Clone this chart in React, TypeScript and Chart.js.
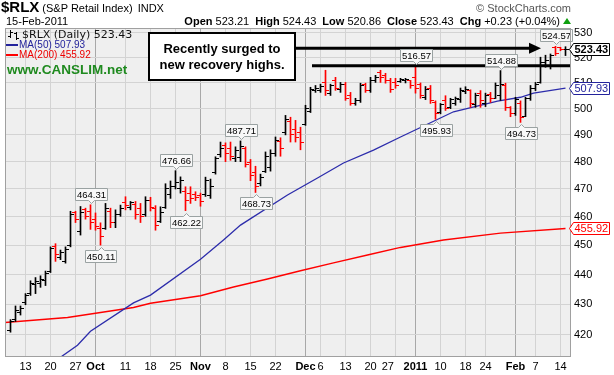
import React, { useEffect, useRef } from 'react';
import { Chart, registerables } from 'chart.js';

Chart.register(...registerables);

const SANS = '"Liberation Sans", Arial, Helvetica, sans-serif';
const VERD = '"DejaVu Sans", Verdana, sans-serif';

// Trading-day index: 0 = 8 Sep 2010 ... 111 = 15 Feb 2011
const opens = [
  421.3, 425.0, 427.5, 430.5, 433.5, 436.5, 437.0, 438.0, 441.0, 449.5,
  446.0, 444.5, 450.0, 461.5, 455.0, 462.5, 462.0, 459.0, 456.0, 456.0,
  462.0, 458.0, 461.0, 465.0, 463.5, 464.5, 463.0, 461.0, 466.0, 463.0,
  458.5, 463.5, 468.0, 471.0, 470.0, 469.0, 468.5, 468.0, 467.5, 468.0,
  467.5, 476.0, 482.5, 486.0, 485.0, 481.0, 481.5, 485.0, 479.5, 476.0,
  472.0, 476.5, 478.0, 483.0, 487.5, 491.0, 495.0, 492.0, 491.0, 494.0,
  499.0, 507.0, 507.0, 510.0, 506.0, 511.0, 507.5, 509.5, 505.0, 502.0,
  503.0, 509.5, 507.0, 511.0, 514.0, 513.0, 511.0, 510.0, 510.5, 510.8,
  511.0, 512.0, 509.5, 504.5, 508.0, 502.5, 498.5, 503.0, 500.5, 502.0,
  503.5, 506.5, 507.0, 501.5, 506.0, 502.0, 505.5, 504.0, 505.0, 509.0,
  500.5, 498.0, 502.0, 497.0, 504.0, 508.0, 510.0, 518.0, 517.0, 524.0,
  524.0, 523.21,
];
const highs = [
  425.0, 429.5, 429.5, 433.6, 437.9, 439.0, 439.6, 441.2, 449.5, 450.6,
  448.4, 449.5, 462.0, 462.0, 463.7, 463.1, 464.31, 461.4, 457.9, 464.8,
  463.1, 462.5, 464.2, 467.2, 465.5, 465.5, 464.8, 467.2, 467.0, 464.0,
  463.6, 471.9, 472.9, 476.66, 474.4, 470.8, 470.8, 469.0, 468.5, 474.3,
  473.6, 481.8, 487.3, 487.0, 487.3, 485.5, 487.71, 485.5, 480.8, 478.3,
  475.4, 483.6, 484.4, 489.2, 488.9, 497.4, 496.7, 495.5, 492.9, 501.3,
  508.3, 509.0, 509.5, 515.0, 509.5, 512.2, 510.2, 510.2, 506.3, 504.0,
  509.9, 509.9, 512.2, 513.0, 515.0, 513.8, 511.8, 511.8, 511.8, 511.8,
  511.0, 516.57, 510.0, 508.6, 509.0, 503.0, 502.0, 505.0, 504.0, 504.5,
  508.0, 508.5, 507.3, 506.0, 507.0, 506.0, 506.3, 510.0, 514.88, 509.9,
  500.8, 504.4, 503.0, 504.4, 509.0, 510.2, 520.2, 521.0, 521.5, 524.57,
  524.2, 524.43,
];
const lows = [
  420.9, 424.4, 426.5, 429.9, 433.0, 433.6, 435.7, 436.3, 440.7, 444.5,
  445.1, 443.9, 449.5, 458.0, 453.6, 459.2, 455.6, 455.3, 450.11, 455.6,
  456.2, 456.2, 460.2, 462.5, 462.5, 459.2, 458.0, 460.2, 462.1, 455.3,
  458.0, 463.0, 466.6, 470.0, 468.5, 462.22, 464.8, 465.8, 463.8, 467.3,
  466.6, 475.4, 481.7, 480.0, 480.5, 480.0, 480.0, 478.0, 473.0, 468.73,
  471.1, 476.0, 476.5, 482.0, 482.0, 490.0, 487.3, 487.3, 484.4, 493.6,
  498.5, 506.3, 506.3, 505.1, 505.1, 507.1, 506.3, 503.2, 501.3, 501.3,
  502.4, 506.3, 506.3, 510.2, 510.2, 509.9, 506.3, 507.9, 510.2, 510.0,
  507.9, 506.0, 504.0, 503.5, 502.0, 495.93, 498.0, 499.3, 500.0, 501.3,
  502.4, 505.8, 500.5, 500.5, 500.5, 500.8, 502.4, 503.9, 503.2, 499.3,
  496.9, 497.4, 494.73, 496.9, 503.2, 507.0, 509.9, 516.2, 515.5, 520.9,
  522.8, 520.86,
];
const closes = [
  424.5, 428.0, 428.5, 433.0, 437.0, 437.5, 438.5, 440.5, 449.0, 447.0,
  447.5, 448.5, 461.0, 459.0, 461.5, 460.0, 458.0, 456.5, 453.0, 463.0,
  458.0, 461.0, 463.0, 464.0, 465.0, 461.0, 460.0, 466.0, 463.5, 457.0,
  461.5, 470.0, 471.0, 472.5, 473.0, 466.0, 466.5, 467.0, 465.5, 473.0,
  471.0, 481.0, 485.0, 483.0, 482.0, 484.0, 485.5, 479.0, 475.0, 471.0,
  474.0, 482.0, 483.0, 488.0, 485.0, 496.0, 490.0, 489.0, 487.0, 500.0,
  507.5, 508.0, 508.5, 507.0, 509.0, 508.0, 509.5, 504.0, 502.0, 503.0,
  509.0, 507.0, 511.0, 512.0, 512.0, 511.0, 507.5, 509.0, 511.3, 511.5,
  509.0, 508.0, 505.0, 507.5, 503.0, 498.0, 501.5, 500.0, 503.5, 504.0,
  507.0, 507.5, 502.0, 505.0, 503.0, 505.0, 504.0, 509.0, 509.5, 500.5,
  498.0, 503.5, 496.5, 504.0, 508.0, 509.5, 518.0, 519.0, 521.0, 521.5,
  523.2, 523.43,
];

// x-axis ticks (trading-day index) and their labels
const xTickIdx = [3, 8, 13, 17, 23, 28, 33, 38, 43, 48, 53, 59, 62, 67, 72, 77, 81, 86, 91, 95, 101, 105, 110];
const xTickText = ['13', '20', '27', 'Oct', '11', '18', '25', 'Nov', '8', '15', '22', 'Dec', '6', '13', '20', '27     ', '2011', '10', '18', '24', 'Feb', '7', '14'];
const monthTickIdx = [17, 38, 59, 81, 101];
const yTicks = [420, 430, 440, 450, 460, 470, 480, 490, 500, 510, 520, 530];

// moving averages
const ma50Idx = [9.5, 13.4, 16, 24.6, 28, 38, 42.6, 46, 55.4, 61.4, 66.6, 72.6, 78, 82, 88.6, 97.4, 102, 104.6, 111];
const ma50Val = [412.3, 416.7, 421.2, 430.5, 433.1, 445.2, 451.9, 457.1, 467.8, 474.0, 479.5, 484.3, 489.2, 492.8, 498.8, 502.9, 504.4, 506.0, 507.93];
const ma200Idx = [-1.5, 11.4, 24.6, 28, 38, 44.6, 51.4, 58, 64.6, 71.4, 78, 86.6, 98, 111];
const ma200Val = [424.0, 425.7, 429.0, 430.4, 432.9, 435.8, 438.5, 441.3, 444.0, 446.7, 449.3, 451.9, 454.3, 455.92];

// annotated highs (H) and lows (L)
const peakIdx = [16, 18, 33, 35, 46, 49, 81, 85, 98, 102, 109];
const peakSide = ['H', 'L', 'H', 'L', 'H', 'L', 'H', 'L', 'H', 'L', 'H'];

// annotation lines
const resistanceLevel = 516.8;
const resistanceRange = [60.3, 111.9];
const arrowLevel = 523.8;
const arrowRange = [57.1, 106.1];

// right-side value tags
const tagValues = [523.43, 507.93, 455.92];
const tagColors = ['#000000', '#23239c', '#ff0000'];
const tagBold = [true, false, false];

const RED = '#ff0000';
const BLACK = '#000000';
const BLUE = '#2c2cab';

const isDown = (i: number) => closes[i] < opens[i];

function makeTick(color: string, side: 'open' | 'close') {
  const c = document.createElement('canvas');
  c.width = 9;
  c.height = 1;
  const g = c.getContext('2d')!;
  g.fillStyle = color;
  if (side === 'open') g.fillRect(1, 0, 3, 1);
  else g.fillRect(5, 0, 3, 1);
  return c;
}

const overlayPlugin = {
  id: 'overlay',
  beforeDraw(chart: any) {
    const { ctx, chartArea: a } = chart;
    ctx.save();
    ctx.fillStyle = '#ffffff';
    ctx.fillRect(0, 0, chart.width, chart.height);
    ctx.fillStyle = '#efefef';
    ctx.fillRect(a.left, a.top, a.right - a.left, a.bottom - a.top);
    ctx.restore();
  },
  beforeDatasetsDraw(chart: any) {
    chart.ctx.imageSmoothingEnabled = false;
  },
  afterDatasetsDraw(chart: any) {
    const { ctx, scales } = chart;
    const x = scales.x;
    const y = scales.y;
    ctx.save();
    // resistance line
    ctx.strokeStyle = '#000';
    ctx.lineWidth = 3;
    const ry = y.getPixelForValue(resistanceLevel);
    ctx.beginPath();
    ctx.moveTo(x.getPixelForValue(resistanceRange[0]), ry);
    ctx.lineTo(x.getPixelForValue(resistanceRange[1]), ry);
    ctx.stroke();
    // arrow
    const ay = y.getPixelForValue(arrowLevel);
    const ax0 = x.getPixelForValue(arrowRange[0]);
    const ax1 = x.getPixelForValue(arrowRange[1]);
    ctx.beginPath();
    ctx.moveTo(ax0, ay);
    ctx.lineTo(ax1 - 8, ay);
    ctx.stroke();
    ctx.fillStyle = '#000';
    ctx.beginPath();
    ctx.moveTo(ax1, ay);
    ctx.lineTo(ax1 - 12, ay - 5.5);
    ctx.lineTo(ax1 - 12, ay + 5.5);
    ctx.closePath();
    ctx.fill();

    // peak labels
    ctx.font = `9.5px ${SANS}`;
    ctx.textAlign = 'center';
    ctx.textBaseline = 'middle';
    ctx.lineWidth = 1;
    peakIdx.forEach((i, k) => {
      const above = peakSide[k] === 'H';
      const v = above ? highs[i] : lows[i];
      const text = v.toFixed(2);
      const cx = x.getPixelForValue(i);
      const py = y.getPixelForValue(v);
      const w = Math.round(ctx.measureText(text).width) + 3;
      const h = 12;
      const left = Math.round(cx - w / 2) + 0.5;
      const top = above ? Math.round(py - 5 - h) + 0.5 : Math.round(py + 5) + 0.5;
      const b = top + h;
      const nx = Math.round(cx) + 0.5;
      ctx.beginPath();
      if (above) {
        ctx.moveTo(left, top);
        ctx.lineTo(left + w, top);
        ctx.lineTo(left + w, b);
        ctx.lineTo(nx + 3, b);
        ctx.lineTo(nx, b + 3);
        ctx.lineTo(nx - 3, b);
        ctx.lineTo(left, b);
      } else {
        ctx.moveTo(left, top);
        ctx.lineTo(nx - 3, top);
        ctx.lineTo(nx, top - 3);
        ctx.lineTo(nx + 3, top);
        ctx.lineTo(left + w, top);
        ctx.lineTo(left + w, b);
        ctx.lineTo(left, b);
      }
      ctx.closePath();
      ctx.fillStyle = '#f8f8f8';
      ctx.fill();
      ctx.strokeStyle = '#9aa2a2';
      ctx.stroke();
      ctx.fillStyle = '#000';
      ctx.fillText(text, left + w / 2, top + h / 2 + 0.5);
    });
    ctx.restore();
  },
  afterDraw(chart: any) {
    const { ctx, chartArea: a, scales } = chart;
    const y = scales.y;
    ctx.save();
    // plot border
    ctx.strokeStyle = '#a0a0a0';
    ctx.lineWidth = 1;
    ctx.strokeRect(a.left + 0.5, a.top + 0.5, a.right - a.left - 1, a.bottom - a.top - 1);
    // value tags on the right axis
    tagValues.forEach((v, k) => {
      const yc = Math.round(y.getPixelForValue(v)) + 0.5;
      const tip = a.right - 1.5;
      const l = tip + 4;
      const r = tip + 40;
      ctx.beginPath();
      ctx.moveTo(tip, yc);
      ctx.lineTo(l, yc - 6);
      ctx.lineTo(r, yc - 6);
      ctx.lineTo(r, yc + 6);
      ctx.lineTo(l, yc + 6);
      ctx.closePath();
      ctx.fillStyle = '#fff';
      ctx.fill();
      ctx.strokeStyle = tagColors[k];
      ctx.stroke();
      ctx.fillStyle = tagColors[k];
      ctx.font = `${tagBold[k] ? 'bold ' : ''}11px ${SANS}`;
      ctx.textAlign = 'left';
      ctx.textBaseline = 'middle';
      ctx.fillText(v.toFixed(2), l + 1, yc + 0.5);
    });
    ctx.restore();
  },
};

export default function App() {
  const ref = useRef<HTMLCanvasElement>(null);

  useEffect(() => {
    const canvas = ref.current!;
    const openBlack = makeTick(BLACK, 'open');
    const openRed = makeTick(RED, 'open');
    const closeBlack = makeTick(BLACK, 'close');
    const closeRed = makeTick(RED, 'close');
    const idx = closes.map((_, i) => i);

    Chart.defaults.font.family = SANS;

    const chart = new Chart(canvas, {
      type: 'bar',
      data: {
        datasets: [
          {
            type: 'line',
            data: ma200Idx.map((xv, k) => ({ x: xv, y: ma200Val[k] })),
            borderColor: RED,
            borderWidth: 1.4,
            pointRadius: 0,
            tension: 0,
            order: 5,
          } as any,
          {
            type: 'line',
            data: ma50Idx.map((xv, k) => ({ x: xv, y: ma50Val[k] })),
            borderColor: BLUE,
            borderWidth: 1.3,
            pointRadius: 0,
            tension: 0,
            order: 4,
          } as any,
          {
            type: 'bar',
            data: idx.map((i) => ({ x: i, y: [lows[i], highs[i]] })),
            backgroundColor: idx.map((i) => (isDown(i) ? RED : BLACK)),
            barThickness: 1,
            borderWidth: 0,
            borderSkipped: false,
            order: 3,
          } as any,
          {
            type: 'line',
            data: idx.map((i) => ({ x: i, y: opens[i] })),
            showLine: false,
            pointRadius: 3,
            pointStyle: (c: any) => (isDown(c.dataIndex) ? openRed : openBlack),
            order: 2,
          } as any,
          {
            type: 'line',
            data: idx.map((i) => ({ x: i, y: closes[i] })),
            showLine: false,
            pointRadius: 3,
            pointStyle: (c: any) => (isDown(c.dataIndex) ? closeRed : closeBlack),
            order: 1,
          } as any,
        ],
      },
      options: {
        responsive: false,
        animation: false,
        events: [],
        devicePixelRatio: 1,
        layout: { padding: { left: 5, top: 28, right: 0, bottom: 0 }, autoPadding: false } as any,
        plugins: { legend: { display: false }, tooltip: { enabled: false } },
        scales: {
          x: {
            type: 'linear',
            min: -1.1,
            max: 112.1,
            offset: false,
            afterBuildTicks: (ax: any) => {
              ax.ticks = xTickIdx.map((v) => ({ value: v }));
            },
            afterFit: (ax: any) => {
              ax.height = 18;
            },
            ticks: {
              autoSkip: false,
              maxRotation: 0,
              padding: 3,
              color: '#000',
              font: (c: any) => ({
                family: SANS,
                size: 11,
                weight: c.tick && monthTickIdx.includes(c.tick.value) ? 'bold' : 'normal',
              }),
              callback: (v: any) => {
                const k = xTickIdx.indexOf(v);
                return k >= 0 ? xTickText[k] : '';
              },
            },
            grid: {
              offset: false,
              drawTicks: false,
              color: (c: any) => (c.tick && monthTickIdx.includes(c.tick.value) ? '#a8a8a8' : '#d3d3d3'),
            },
            border: { display: false },
          } as any,
          y: {
            type: 'logarithmic',
            position: 'right',
            min: 412.94,
            max: 532.04,
            afterBuildTicks: (ax: any) => {
              ax.ticks = yTicks.map((v) => ({ value: v }));
            },
            afterFit: (ax: any) => {
              ax.width = 43;
            },
            ticks: {
              padding: 3,
              color: '#000',
              font: { family: SANS, size: 11 },
              callback: (v: any) => String(v),
            },
            grid: { drawTicks: false, color: '#d3d3d3' },
            border: { display: false },
          } as any,
        },
      },
      plugins: [overlayPlugin],
    } as any);

    return () => chart.destroy();
  }, []);

  const abs = (extra: React.CSSProperties): React.CSSProperties => ({
    position: 'absolute',
    whiteSpace: 'nowrap',
    ...extra,
  });

  return (
    <div
      style={{
        position: 'fixed',
        left: 0,
        top: 0,
        width: 614,
        height: 375,
        background: '#fff',
        overflow: 'hidden',
        fontFamily: SANS,
        color: '#000',
      }}
    >
      <canvas
        ref={ref}
        width={614}
        height={375}
        style={{ position: 'absolute', left: 0, top: 0, width: 614, height: 375 }}
      />

      {/* title */}
      <div style={abs({ left: 1, top: -1, lineHeight: '15px' })}>
        <span style={{ fontWeight: 'bold', fontSize: 15 }}>$RLX</span>
        <span style={{ fontSize: 11, marginLeft: 3 }}>(S&amp;P Retail Index)</span>
        <span style={{ fontSize: 11, marginLeft: 5 }}>INDX</span>
      </div>
      <div style={abs({ left: 6, top: 15, fontSize: 11, lineHeight: '12px' })}>15-Feb-2011</div>
      <div style={abs({ right: 43, top: 2, fontSize: 11, lineHeight: '12px', color: '#555' })}>
        © StockCharts.com
      </div>
      <div
        style={abs({
          right: 43,
          top: 15,
          fontSize: 11,
          lineHeight: '12px',
          display: 'flex',
          alignItems: 'center',
        })}
      >
        <span>
          <b>Open</b> 523.21
        </span>
        <span style={{ marginLeft: 6 }}>
          <b>High</b> 524.43
        </span>
        <span style={{ marginLeft: 6 }}>
          <b>Low</b> 520.86
        </span>
        <span style={{ marginLeft: 6 }}>
          <b>Close</b> 523.43
        </span>
        <span style={{ marginLeft: 6 }}>
          <b>Chg</b> +0.23 (+0.04%)
        </span>
        <span
          style={{
            display: 'inline-block',
            marginLeft: 3,
            width: 0,
            height: 0,
            borderLeft: '4px solid transparent',
            borderRight: '4px solid transparent',
            borderBottom: '6px solid #10a010',
          }}
        />
      </div>

      {/* legend */}
      <svg style={{ position: 'absolute', left: 8, top: 30 }} width={11} height={10}>
        <line x1={2.5} y1={0} x2={2.5} y2={8} stroke="#000" strokeWidth={1} />
        <line x1={0} y1={6.5} x2={2.5} y2={6.5} stroke="#000" strokeWidth={1} />
        <line x1={2.5} y1={2.5} x2={5} y2={2.5} stroke="#000" strokeWidth={1} />
        <line x1={8.5} y1={2} x2={8.5} y2={10} stroke="#000" strokeWidth={1} />
        <line x1={6} y1={3.5} x2={8.5} y2={3.5} stroke="#000" strokeWidth={1} />
        <line x1={8.5} y1={8.5} x2={11} y2={8.5} stroke="#000" strokeWidth={1} />
      </svg>
      <div style={abs({ left: 22, top: 29, fontFamily: VERD, fontSize: 11, lineHeight: '12px', color: '#111' })}>
        $RLX (Daily) 523.43
      </div>
      <div style={abs({ left: 6, top: 44, width: 12, height: 2, background: '#23239c' })} />
      <div style={abs({ left: 19, top: 39, fontSize: 10, lineHeight: '11px', color: '#23239c' })}>
        MA(50) 507.93
      </div>
      <div style={abs({ left: 6, top: 54, width: 12, height: 2, background: '#ff0000' })} />
      <div style={abs({ left: 19, top: 49, fontSize: 10, lineHeight: '11px', color: '#ee0000' })}>
        MA(200) 455.92
      </div>
      <div
        style={abs({
          left: 7,
          top: 62,
          fontSize: 13.5,
          fontWeight: 'bold',
          lineHeight: '15px',
          color: '#1f8a1f',
        })}
      >
        www.CANSLIM.net
      </div>

      {/* annotation box */}
      <div
        style={{
          position: 'absolute',
          left: 148,
          top: 32,
          width: 148,
          height: 49,
          boxSizing: 'border-box',
          border: '2px solid #000',
          background: '#fff',
          fontWeight: 'bold',
          fontSize: 13,
          lineHeight: '16px',
          textAlign: 'center',
          paddingTop: 7,
          whiteSpace: 'nowrap',
        }}
      >
        Recently surged to
        <br />
        new recovery highs.
      </div>
    </div>
  );
}
